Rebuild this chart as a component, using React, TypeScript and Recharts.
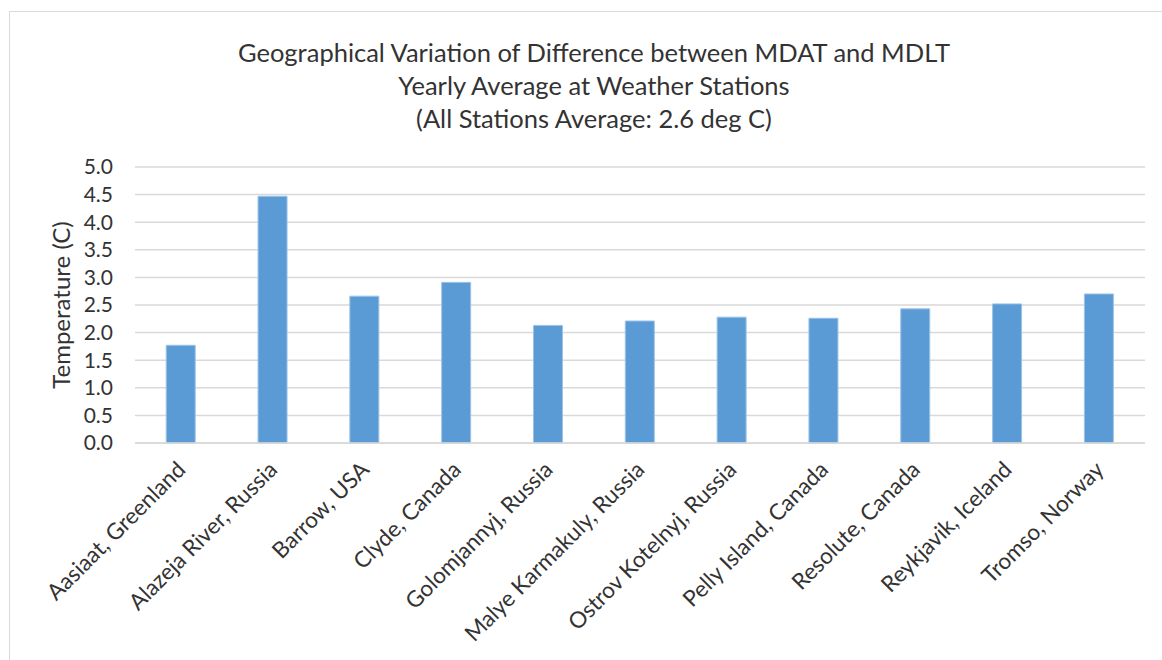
import React from 'react';
import { BarChart, Bar, XAxis, YAxis, CartesianGrid, Label } from 'recharts';

const stations = [
  'Aasiaat, Greenland',
  'Alazeja River, Russia',
  'Barrow, USA',
  'Clyde, Canada',
  'Golomjannyj, Russia',
  'Malye Karmakuly, Russia',
  'Ostrov Kotelnyj, Russia',
  'Pelly Island, Canada',
  'Resolute, Canada',
  'Reykjavik, Iceland',
  'Tromso, Norway',
];
const diffValues = [1.77, 4.47, 2.66, 2.91, 2.13, 2.21, 2.28, 2.26, 2.43, 2.52, 2.7];
const yTicks = [0, 0.5, 1, 1.5, 2, 2.5, 3, 3.5, 4, 4.5, 5];
const titleLines = [
  'Geographical Variation of Difference between MDAT and MDLT',
  'Yearly Average at Weather Stations',
  '(All Stations Average: 2.6 deg C)',
];

const data = stations.map((name, i) => ({ name, diff: diffValues[i] }));

const FONT = 'Lato, "Open Sans", sans-serif';
const TEXT = '#333333';

// rotated category labels, anchored at their end just under the axis
const StationTick = (props: any) => {
  const { x, payload } = props;
  return (
    <g transform={`translate(${x + 6},${471})`}>
      <text transform="rotate(-45)" textAnchor="end" fill={TEXT} fontSize={22.5} fontFamily={FONT}>
        {payload.value}
      </text>
    </g>
  );
};

const App: React.FC = () => {
  return (
    <div style={{ position: 'absolute', left: 0, top: 0, width: 1162, height: 660, background: '#fff', overflow: 'hidden' }}>
      <div style={{ position: 'absolute', left: 9, top: 11, width: 1200, height: 700, border: '1.5px solid #d9d9d9' }} />
      <div style={{ position: 'absolute', left: 0, top: 0 }}>
        <BarChart width={1162} height={660} data={data} margin={{ top: 167, right: 17, left: 75, bottom: 17 }} barCategoryGap="34%">
          <CartesianGrid vertical={false} stroke="#d9d9d9" strokeWidth={1.5} />
          <XAxis dataKey="name" height={200} interval={0} tick={<StationTick />} tickLine={false} axisLine={{ stroke: '#d9d9d9', strokeWidth: 1.5 }} />
          <YAxis
            domain={[0, 5]}
            ticks={yTicks}
            interval={0}
            width={60}
            tickFormatter={(v: number) => v.toFixed(1)}
            tick={{ fill: TEXT, fontSize: 21, fontFamily: FONT }}
            tickLine={false}
            axisLine={false}
            tickSize={0}
            tickMargin={22}
          >
            <Label value="Temperature (C)" angle={-90} position="insideLeft" offset={-14} style={{ textAnchor: 'middle', fill: TEXT, fontSize: 24, fontFamily: FONT }} />
          </YAxis>
          <Bar dataKey="diff" fill="#5b9bd5" stroke="#9cc3e6" strokeWidth={1} isAnimationActive={false} />
        </BarChart>
      </div>
      <svg width={1162} height={150} style={{ position: 'absolute', left: 0, top: 0 }}>
        {titleLines.map((t, i) => (
          <text key={t} x={594} y={62 + i * 33} textAnchor="middle" fill={TEXT} fontSize={25.5} fontFamily={FONT}>
            {t}
          </text>
        ))}
      </svg>
    </div>
  );
};

export default App;
